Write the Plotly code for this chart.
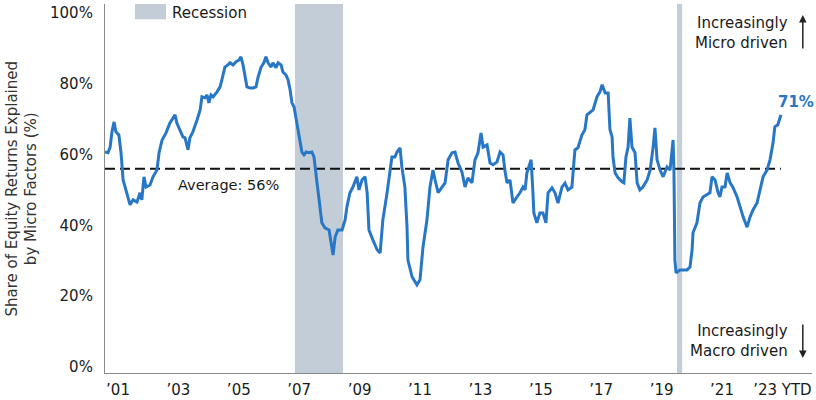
import plotly.graph_objects as go

# Decimal-year positions (tick labels sit mid-year) and share of returns explained by micro factors (%)
years = [
    2001.07, 2001.17, 2001.24, 2001.30, 2001.37, 2001.43, 2001.53, 2001.60, 2001.67, 2001.73,
    2001.83, 2001.90, 2002.00, 2002.13, 2002.23, 2002.29, 2002.36, 2002.43, 2002.56, 2002.66,
    2002.79, 2002.86, 2002.96, 2003.09, 2003.22, 2003.32, 2003.39, 2003.45, 2003.55, 2003.65,
    2003.72, 2003.82, 2003.88, 2003.98, 2004.12, 2004.22, 2004.28, 2004.38, 2004.45, 2004.51,
    2004.58, 2004.65, 2004.78, 2004.88, 2004.94, 2005.04, 2005.14, 2005.21, 2005.31, 2005.41,
    2005.51, 2005.57, 2005.64, 2005.71, 2005.77, 2005.87, 2005.97, 2006.07, 2006.14, 2006.24,
    2006.33, 2006.40, 2006.47, 2006.57, 2006.63, 2006.73, 2006.80, 2006.90, 2006.96, 2007.06,
    2007.13, 2007.20, 2007.26, 2007.33, 2007.39, 2007.46, 2007.53, 2007.59, 2007.66, 2007.73,
    2007.82, 2007.92, 2007.99, 2008.02, 2008.09, 2008.16, 2008.19, 2008.25, 2008.35, 2008.49,
    2008.62, 2008.69, 2008.78, 2008.92, 2009.02, 2009.08, 2009.18, 2009.28, 2009.41, 2009.48,
    2009.58, 2009.68, 2009.75, 2009.81, 2009.94, 2010.08, 2010.18, 2010.27, 2010.41, 2010.51,
    2010.57, 2010.67, 2010.74, 2010.84, 2010.90, 2011.00, 2011.07, 2011.10, 2011.24, 2011.40,
    2011.50, 2011.60, 2011.73, 2011.83, 2011.93, 2012.00, 2012.10, 2012.23, 2012.33, 2012.43,
    2012.56, 2012.66, 2012.76, 2012.89, 2012.99, 2013.09, 2013.22, 2013.32, 2013.42, 2013.52,
    2013.59, 2013.72, 2013.82, 2013.92, 2014.05, 2014.15, 2014.25, 2014.31, 2014.38, 2014.48,
    2014.58, 2014.71, 2014.81, 2014.91, 2014.98, 2015.04, 2015.18, 2015.24, 2015.27, 2015.37,
    2015.47, 2015.57, 2015.67, 2015.74, 2015.87, 2015.97, 2016.07, 2016.20, 2016.30, 2016.40,
    2016.53, 2016.63, 2016.73, 2016.86, 2016.96, 2017.03, 2017.13, 2017.23, 2017.36, 2017.46,
    2017.53, 2017.63, 2017.73, 2017.79, 2017.86, 2017.89, 2017.96, 2018.06, 2018.19, 2018.25,
    2018.32, 2018.39, 2018.45, 2018.52, 2018.62, 2018.69, 2018.78, 2018.88, 2019.02, 2019.12,
    2019.22, 2019.28, 2019.35, 2019.45, 2019.55, 2019.68, 2019.78, 2019.88, 2019.91, 2019.94,
    2019.98, 2020.11, 2020.34, 2020.44, 2020.51, 2020.54, 2020.67, 2020.77, 2020.87, 2021.00,
    2021.10, 2021.17, 2021.27, 2021.37, 2021.43, 2021.50, 2021.60, 2021.67, 2021.77, 2021.86,
    2022.00, 2022.10, 2022.20, 2022.33, 2022.43, 2022.53, 2022.66, 2022.76, 2022.86, 2022.99,
    2023.09, 2023.19, 2023.25, 2023.35, 2023.45,
]
micro_share = [
    60.7, 60.5, 62.1, 66.4, 69.2, 66.4, 65.5, 60.5, 52.8, 50.8,
    48.0, 45.8, 47.2, 46.6, 49.2, 47.2, 53.7, 50.8, 51.4, 53.7,
    55.6, 60.5, 64.1, 66.1, 68.9, 70.3, 71.2, 68.9, 67.0, 65.0,
    64.7, 61.3, 64.7, 66.4, 69.8, 72.6, 76.3, 76.0, 76.8, 74.6,
    76.8, 76.3, 77.7, 79.1, 81.1, 84.7, 85.3, 85.9, 85.3, 86.2,
    86.7, 87.6, 85.3, 81.9, 79.1, 78.8, 78.8, 79.1, 81.9, 84.7,
    85.9, 87.6, 85.9, 84.7, 85.9, 84.5, 85.9, 85.3, 83.3, 82.5,
    81.1, 78.2, 74.6, 73.4, 70.6, 66.4, 64.1, 60.7, 59.9, 60.7,
    60.5, 60.7, 59.3, 56.5, 52.0, 47.2, 44.4, 40.7, 39.3, 38.7,
    31.6, 36.7, 38.7, 38.7, 41.5, 45.2, 49.2, 50.8, 53.7, 50.0,
    52.8, 53.7, 49.2, 38.7, 35.9, 33.1, 32.2, 41.5, 49.2, 54.8,
    59.3, 59.3, 60.7, 61.9, 56.5, 50.8, 39.5, 30.2, 25.4, 23.2,
    24.6, 33.9, 41.5, 50.8, 55.6, 52.8, 49.2, 50.8, 52.0, 58.5,
    60.5, 60.7, 57.6, 55.1, 50.8, 53.4, 52.0, 58.5, 60.5, 66.1,
    62.1, 62.7, 57.6, 57.1, 57.9, 60.7, 59.9, 55.6, 52.0, 52.8,
    46.3, 48.0, 49.2, 50.8, 50.0, 54.8, 58.5, 49.2, 43.5, 40.7,
    43.5, 43.5, 40.7, 49.2, 50.6, 49.2, 46.3, 50.8, 51.9, 50.0,
    50.8, 61.3, 61.9, 65.5, 67.0, 71.2, 72.0, 72.6, 76.3, 77.7,
    79.7, 77.4, 77.4, 67.0, 65.0, 59.3, 54.8, 53.4, 52.3, 52.0,
    59.3, 62.1, 70.3, 62.1, 60.5, 52.0, 50.0, 50.8, 52.8, 55.6,
    62.1, 67.5, 58.5, 55.6, 53.7, 56.5, 55.6, 64.1, 54.8, 30.2,
    26.6, 27.4, 27.4, 28.2, 33.1, 37.9, 40.7, 46.3, 48.0, 48.6,
    49.2, 53.7, 52.8, 49.2, 48.0, 50.8, 50.8, 54.8, 52.0, 50.8,
    48.0, 45.2, 42.4, 39.5, 42.4, 44.4, 46.3, 50.0, 53.7, 55.6,
    58.5, 63.3, 67.8, 68.4, 71.2,
]
average_value = 56
recession_start = [2007.36, 2020.01]
recession_end = [2008.95, 2020.18]
tick_positions = [2001.5, 2003.5, 2005.5, 2007.5, 2009.5, 2011.5, 2013.5, 2015.5, 2017.5, 2019.5, 2021.5, 2023.5]
tick_labels = ["’01", "’03", "’05", "’07", "’09", "’11", "’13", "’15", "’17", "’19", "’21", "’23 YTD"]
y_tick_values = [0, 20, 40, 60, 80, 100]
y_tick_labels = ["0%", "20%", "40%", "60%", "80%", "100%"]

BLUE = "#2777C6"
REC = "#C3CDD8"
TXT = "#1a1a1a"
FONT = "DejaVu Sans"

fig = go.Figure()

for x0, x1 in zip(recession_start, recession_end):
    fig.add_vrect(x0=x0, x1=x1, fillcolor=REC, line_width=0, layer="below", opacity=1)

fig.add_trace(go.Scatter(
    x=[years[0], years[-1]], y=[average_value, average_value], mode="lines",
    line=dict(color="#111111", width=2, dash="10px,5px"), hoverinfo="skip", showlegend=False))

fig.add_trace(go.Scatter(
    x=years, y=micro_share, mode="lines",
    line=dict(color=BLUE, width=3), showlegend=False))

# Legend swatch for recession
fig.add_shape(type="rect", xref="paper", yref="paper", x0=0.0424, x1=0.0863, y0=0.959, y1=1.0,
              fillcolor=REC, line_width=0)
fig.add_annotation(text="Recession", xref="paper", yref="paper", x=0.092, y=0.976,
                   xanchor="left", yanchor="middle", showarrow=False, font=dict(size=15, color=TXT))

fig.add_annotation(text=f"Average: {average_value}%", x=2005.15, y=51.5, showarrow=False,
                   xanchor="center", yanchor="middle", font=dict(size=14.5, color=TXT))

fig.add_annotation(text=f"<b>{round(micro_share[-1])}%</b>", x=years[-1], y=micro_share[-1],
                   xanchor="left", yanchor="middle", xshift=-5, yshift=13, showarrow=False,
                   font=dict(size=15, color=BLUE))

fig.add_annotation(text="Increasingly<br>Micro driven", xref="paper", yref="paper", x=0.969, y=0.921,
                   xanchor="right", yanchor="middle", align="right", showarrow=False,
                   font=dict(size=15, color=TXT))
fig.add_annotation(text="", xref="paper", yref="paper", x=0.987, y=0.970, ax=0, ay=35,
                   showarrow=True, arrowhead=2, arrowsize=1, arrowwidth=1.5, arrowcolor="#222")

fig.add_annotation(text="Increasingly<br>Macro driven", xref="paper", yref="paper", x=0.969, y=0.0867,
                   xanchor="right", yanchor="middle", align="right", showarrow=False,
                   font=dict(size=15, color=TXT))
fig.add_annotation(text="", xref="paper", yref="paper", x=0.987, y=0.0407, ax=0, ay=-35,
                   showarrow=True, arrowhead=2, arrowsize=1, arrowwidth=1.5, arrowcolor="#222")

fig.add_annotation(text="Share of Equity Returns Explained<br>by Micro Factors (%)", xref="paper", yref="paper",
                   x=0, y=0.5, xshift=-84, xanchor="center", yanchor="middle", textangle=-90,
                   showarrow=False, font=dict(size=15, color="#333333"))

fig.update_layout(
    width=816, height=400,
    margin=dict(l=105, r=4, t=4, b=27, autoexpand=False),
    plot_bgcolor="white", paper_bgcolor="white",
    font=dict(family=FONT, size=15, color=TXT),
    showlegend=False,
)
fig.update_xaxes(range=[2001.07, 2024.48], tickvals=tick_positions, ticktext=tick_labels,
                 showgrid=False, zeroline=False, showline=True, linecolor="#8a8a8a", linewidth=1.2,
                 ticks="", automargin=False, ticklabelstandoff=3, tickfont=dict(size=15, color=TXT))
fig.update_yaxes(range=[-1.7, 102.5], tickvals=y_tick_values, ticktext=y_tick_labels,
                 showgrid=False, zeroline=False, showline=True, linecolor="#8a8a8a", linewidth=1.2,
                 ticks="", automargin=False, ticklabelstandoff=8, tickfont=dict(size=15, color=TXT))

fig.write_html("out.html", config={"displayModeBar": False},
               post_script="document.body.style.margin='0';document.body.style.overflow='hidden';")
